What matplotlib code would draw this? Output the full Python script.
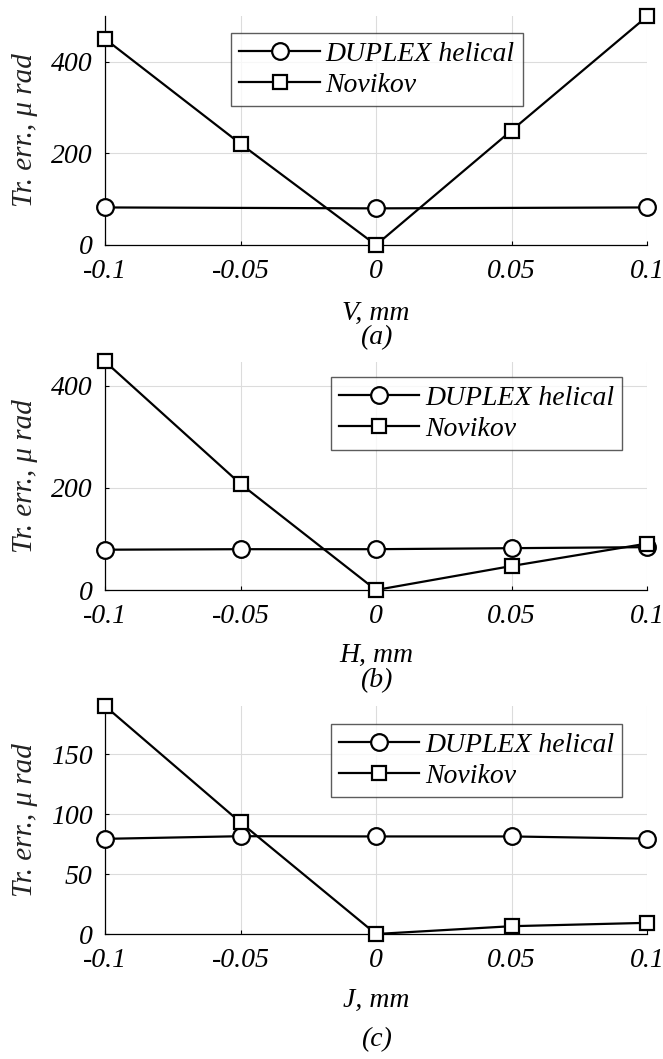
import matplotlib
matplotlib.use("Agg")
import matplotlib.pyplot as plt

# ---- data ----
x_all = [-0.1, -0.05, 0, 0.05, 0.1]
xticklabels = ["-0.1", "-0.05", "0", "0.05", "0.1"]

a_duplex_x = [-0.1, 0, 0.1]
a_duplex_y = [82, 80, 82]
a_novikov_y = [450, 221, 0, 250, 499]

b_duplex_y = [79, 80, 80, 82, 84]
b_novikov_y = [448, 208, 0, 47, 91]

c_duplex_y = [79.3, 81.5, 81.3, 81.3, 79.5]
c_novikov_y = [190, 93, 0, 6.5, 9.3]

series_names = ["DUPLEX helical", "Novikov"]
xlabels = ["V, mm", "H, mm", "J, mm"]
captions = ["(a)", "(b)", "(c)"]
ylabel = "Tr. err., \u03bc rad"

plt.rcParams['font.family'] = ['Liberation Serif', 'DejaVu Serif']
plt.rcParams['font.style'] = 'italic'

fig = plt.figure(figsize=(6.63, 10.59), dpi=100)
W, H = 663, 1059
AX_L, AX_R = 105, 647

def ax_rect(l, r, top, bot):
    return [l / W, 1 - bot / H, (r - l) / W, (bot - top) / H]

panels = [
    dict(rect=ax_rect(AX_L, AX_R, 16, 245), dx=a_duplex_x, dy=a_duplex_y, ny=a_novikov_y,
         ylim=(0, 500), yticks=[0, 200, 400], leg=(225, 529, 31, 108),
         xl_y=313, cap_y=338),
    dict(rect=ax_rect(AX_L, AX_R, 362, 590), dx=x_all, dy=b_duplex_y, ny=b_novikov_y,
         ylim=(0, 447), yticks=[0, 200, 400], leg=(325, 628, 374, 453),
         xl_y=655, cap_y=681),
    dict(rect=ax_rect(AX_L, AX_R, 706, 934), dx=x_all, dy=c_duplex_y, ny=c_novikov_y,
         ylim=(0, 190), yticks=[0, 50, 100, 150], leg=(325, 628, 722, 799),
         xl_y=1000, cap_y=1040),
]

for i, p in enumerate(panels):
    ax = fig.add_axes(p['rect'])
    ax.plot(p['dx'], p['dy'], color='black', lw=1.6, marker='o', ms=12,
            mfc='white', mec='black', mew=1.6, label=series_names[0], clip_on=False, zorder=3)
    ax.plot(x_all, p['ny'], color='black', lw=1.6, marker='s', ms=10.5,
            mfc='white', mec='black', mew=1.6, label=series_names[1], clip_on=False, zorder=4)
    ax.set_xlim(-0.1, 0.1)
    ax.set_ylim(*p['ylim'])
    ax.set_xticks(x_all)
    ax.set_xticklabels(xticklabels)
    ax.set_yticks(p['yticks'])
    ax.grid(True, color='#dcdcdc', lw=0.8)
    ax.set_axisbelow(True)
    for s in ['top', 'right']:
        ax.spines[s].set_visible(False)
    for s in ['left', 'bottom']:
        ax.spines[s].set_color('black')
        ax.spines[s].set_linewidth(0.9)
    ax.tick_params(direction='in', length=3, labelsize=20, colors='black')
    ax.tick_params(axis='x', pad=10)
    ax.tick_params(axis='y', pad=9)
    ax.set_ylabel(ylabel, fontsize=21, color='#222222')
    ax.yaxis.set_label_coords((38 - AX_L) / (AX_R - AX_L), 0.5)
    l, r, t, b = p['leg']
    bb = (l / W, 1 - b / H, (r - l) / W, (b - t) / H)
    leg = ax.legend(loc='center', bbox_to_anchor=bb, bbox_transform=fig.transFigure,
                    fontsize=20, frameon=True, fancybox=False, handlelength=2.9,
                    handletextpad=0.2, borderpad=0.3, labelspacing=0.2,
                    borderaxespad=0)
    leg.get_frame().set_edgecolor('#333333')
    leg.get_frame().set_linewidth(1.0)
    cx = (AX_L + AX_R) / 2 / W
    fig.text(cx, 1 - p['xl_y'] / H, xlabels[i], ha='center', va='center', fontsize=20)
    fig.text(cx, 1 - p['cap_y'] / H, captions[i], ha='center', va='center', fontsize=20)

fig.savefig("out.png", dpi=100)
